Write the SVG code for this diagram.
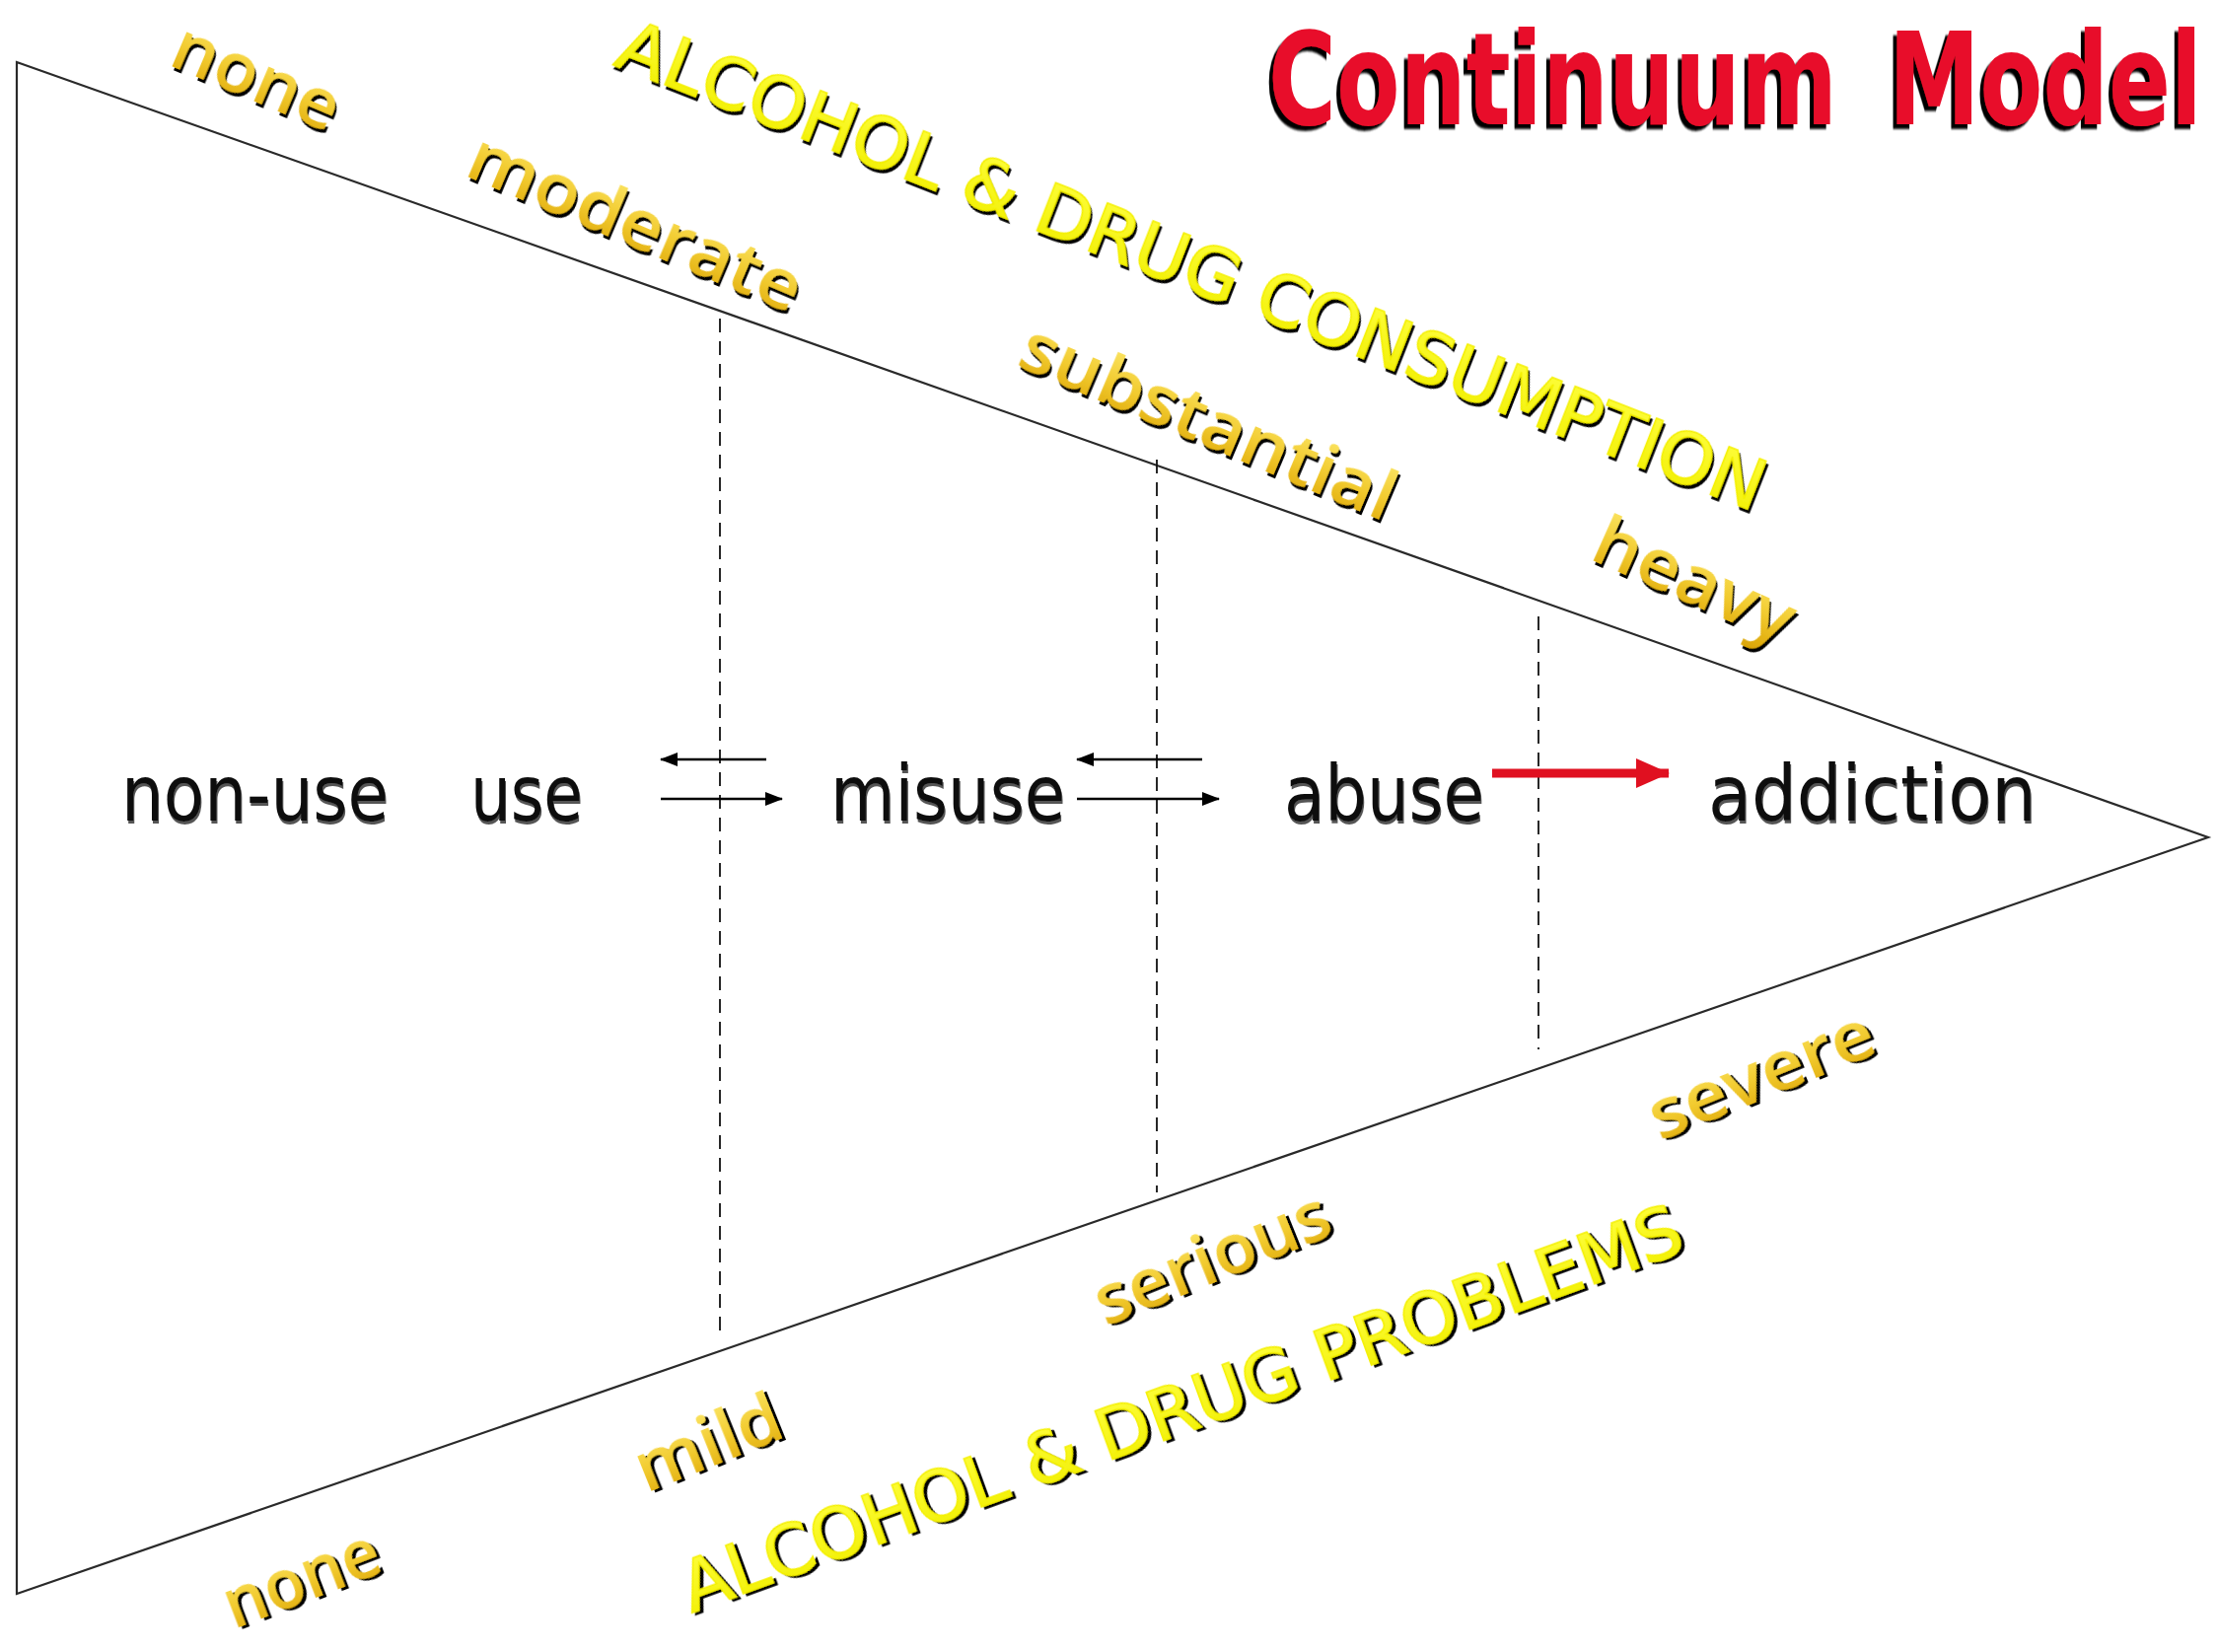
<svg xmlns="http://www.w3.org/2000/svg" width="2248" height="1675" viewBox="0 0 2248 1675">
<defs>
<linearGradient id="gold" x1="0" y1="0" x2="0" y2="1">
<stop offset="0" stop-color="#fff07a"/>
<stop offset="0.55" stop-color="#f2cb30"/>
<stop offset="1" stop-color="#d9a000"/>
</linearGradient>
<linearGradient id="yel" x1="0" y1="0" x2="0" y2="1">
<stop offset="0" stop-color="#ffff40"/>
<stop offset="1" stop-color="#f0ee00"/>
</linearGradient>
<filter id="ds" x="-10%" y="-30%" width="120%" height="160%">
<feDropShadow dx="3" dy="3" stdDeviation="0.6" flood-color="#000" flood-opacity="1"/>
</filter>
<filter id="dsTitle" x="-5%" y="-20%" width="110%" height="140%">
<feDropShadow dx="-4" dy="3.5" stdDeviation="0.6" flood-color="#000" flood-opacity="1"/>
</filter>
<filter id="dsMid" x="-5%" y="-20%" width="110%" height="140%">
<feDropShadow dx="1" dy="3" stdDeviation="0.6" flood-color="#555" flood-opacity="1"/>
</filter>
<marker id="ah" markerUnits="userSpaceOnUse" markerWidth="18" markerHeight="14" viewBox="0 0 18 14" refX="17" refY="7" orient="auto">
<path d="M0,0 L18,7 L0,14 Z" fill="#000"/>
</marker>
<marker id="ahr" markerUnits="userSpaceOnUse" markerWidth="34" markerHeight="30" viewBox="0 0 34 30" refX="33" refY="15" orient="auto">
<path d="M0,0 L34,15 L0,30 Z" fill="#e01020"/>
</marker>
<style>
.edge{fill:none;stroke:#2a2a2a;stroke-width:2.2}
.dash{fill:none;stroke:#111;stroke-width:1.8;stroke-dasharray:14 9}
.arr{fill:none;stroke:#000;stroke-width:2.6}
.red{fill:none;stroke:#e01020;stroke-width:9}
.mid{font-family:"DejaVu Sans","Liberation Sans",sans-serif;font-size:78px;fill:#111;filter:url(#dsMid)}
.lbl{font-family:"Open Sans","DejaVu Sans",sans-serif;font-weight:600;font-size:70px;fill:url(#gold);filter:url(#ds)}
.hdr{font-family:"DejaVu Sans","Liberation Sans",sans-serif;font-size:72px;fill:url(#yel);stroke:#f4f000;stroke-width:1.5;filter:url(#ds)}
.title{font-family:"DejaVu Sans","Liberation Sans",sans-serif;font-weight:bold;font-size:94px;fill:#e8102a;filter:url(#dsTitle)}
</style>
</defs>
<rect width="2248" height="1675" fill="#fff"/>

<g id="funnel">
<path class="edge" d="M17,63 L2239,849 L17,1616 Z"/>
</g>

<g id="dividers">
<line class="dash" x1="730" y1="323" x2="730" y2="1352"/>
<line class="dash" x1="1173" y1="466" x2="1173" y2="1209"/>
<line class="dash" x1="1560" y1="625" x2="1560" y2="1064"/>
</g>

<g id="title" transform="translate(1286,126) scale(1,1.38)">
<text class="title"><tspan x="0" y="0" textLength="577" lengthAdjust="spacingAndGlyphs">Continuum</tspan> <tspan x="629" y="0" textLength="318" lengthAdjust="spacingAndGlyphs">Model</tspan></text>
</g>

<g id="consumption-header" transform="translate(621,65) rotate(21.4)">
<text class="hdr" x="0" y="0" textLength="1243" lengthAdjust="spacingAndGlyphs">ALCOHOL &amp; DRUG CONSUMPTION</text>
</g>

<g id="cons-none" transform="translate(169,65) rotate(23)">
<text class="lbl" textLength="178" lengthAdjust="spacingAndGlyphs">none</text>
</g>
<g id="cons-moderate" transform="translate(469,177) rotate(23)">
<text class="lbl" textLength="361" lengthAdjust="spacingAndGlyphs">moderate</text>
</g>
<g id="cons-substantial" transform="translate(1029,370) rotate(23)">
<text class="lbl" textLength="407" lengthAdjust="spacingAndGlyphs">substantial</text>
</g>
<g id="cons-heavy" transform="translate(1610,566) rotate(24)">
<text class="lbl" textLength="216" lengthAdjust="spacingAndGlyphs">heavy</text>
</g>

<g id="problems-header" transform="translate(701,1635) rotate(-20)">
<text class="hdr" x="0" y="0" textLength="1075" lengthAdjust="spacingAndGlyphs">ALCOHOL &amp; DRUG PROBLEMS</text>
</g>

<g id="prob-none" transform="translate(237,1652) rotate(-21)">
<text class="lbl" textLength="165" lengthAdjust="spacingAndGlyphs">none</text>
</g>
<g id="prob-mild" transform="translate(655,1514) rotate(-22)">
<text class="lbl" textLength="155" lengthAdjust="spacingAndGlyphs">mild</text>
</g>
<g id="prob-serious" transform="translate(1121,1345) rotate(-22)">
<text class="lbl" textLength="252" lengthAdjust="spacingAndGlyphs">serious</text>
</g>
<g id="prob-severe" transform="translate(1683,1157) rotate(-22)">
<text class="lbl" textLength="241" lengthAdjust="spacingAndGlyphs">severe</text>
</g>

<g id="node-non-use">
<text class="mid" x="123" y="832" textLength="271" lengthAdjust="spacingAndGlyphs">non-use</text>
</g>
<g id="node-use">
<text class="mid" x="477" y="832" textLength="114" lengthAdjust="spacingAndGlyphs">use</text>
</g>
<g id="node-misuse">
<text class="mid" x="842" y="832" textLength="238" lengthAdjust="spacingAndGlyphs">misuse</text>
</g>
<g id="node-abuse">
<text class="mid" x="1302" y="832" textLength="203" lengthAdjust="spacingAndGlyphs">abuse</text>
</g>
<g id="node-addiction">
<text class="mid" x="1732" y="832" textLength="333" lengthAdjust="spacingAndGlyphs">addiction</text>
</g>

<g id="connectors">
<line class="arr" x1="777" y1="770" x2="670" y2="770" marker-end="url(#ah)"/>
<line class="arr" x1="670" y1="810" x2="793" y2="810" marker-end="url(#ah)"/>
<line class="arr" x1="1219" y1="770" x2="1092" y2="770" marker-end="url(#ah)"/>
<line class="arr" x1="1092" y1="810" x2="1236" y2="810" marker-end="url(#ah)"/>
<line class="red" x1="1513" y1="784" x2="1692" y2="784" marker-end="url(#ahr)"/>
</g>
</svg>
